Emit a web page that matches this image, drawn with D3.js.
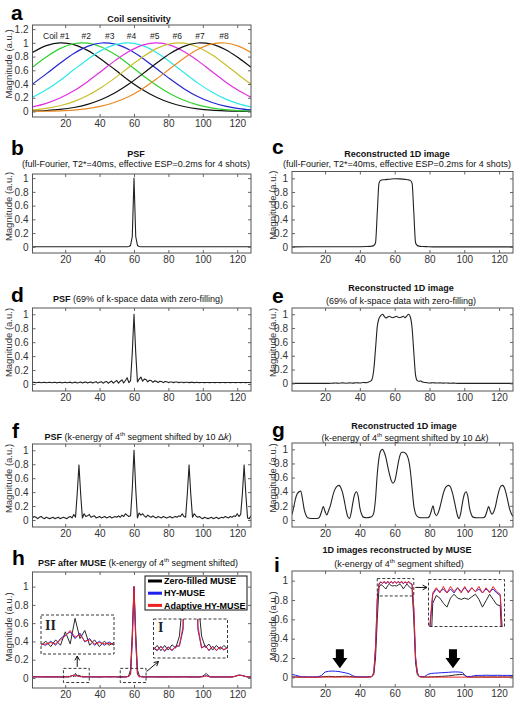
<!DOCTYPE html>
<html><head><meta charset="utf-8">
<script src="https://cdn.jsdelivr.net/npm/d3@7"></script>
<style>body{margin:0;background:#fff}svg{display:block}</style>
</head><body><svg id="fig" width="520" height="704"></svg>
<script>
// ---------------- DATA ----------------
const xTicks = [20, 40, 60, 80, 100, 120];
const yTicksA = [0, 0.2, 0.4, 0.6, 0.8, 1, 1.2];
const yTicks = [0, 0.2, 0.4, 0.6, 0.8, 1];

// (a) coil sensitivity profiles
const coilX = [1,9,17,25,33,41,49,57,65,73,81,89,97,105,113,121,128];
const coil1 = [0.860,0.959,1.000,0.975,0.890,0.759,0.607,0.453,0.317,0.207,0.127,0.073,0.039,0.019,0.009,0.004,0.002];
const coil2 = [0.646,0.795,0.916,0.987,0.995,0.939,0.829,0.684,0.529,0.382,0.258,0.163,0.097,0.054,0.028,0.013,0.007];
const coil3 = [0.399,0.548,0.703,0.845,0.949,0.998,0.981,0.903,0.777,0.626,0.472,0.333,0.219,0.135,0.078,0.042,0.023];
const coil4 = [0.207,0.317,0.453,0.607,0.759,0.890,0.975,1.000,0.959,0.860,0.722,0.567,0.417,0.287,0.184,0.111,0.067];
const coil5 = [0.067,0.119,0.196,0.302,0.435,0.587,0.741,0.875,0.967,1.000,0.967,0.875,0.741,0.587,0.435,0.302,0.207];
const coil6 = [0.023,0.046,0.084,0.144,0.232,0.349,0.490,0.646,0.795,0.916,0.987,0.995,0.939,0.829,0.684,0.529,0.399];
const coil7 = [0.007,0.015,0.030,0.058,0.104,0.174,0.272,0.399,0.548,0.703,0.845,0.949,0.998,0.981,0.903,0.777,0.646];
const coil8 = [0.002,0.004,0.010,0.021,0.042,0.078,0.135,0.219,0.333,0.472,0.626,0.777,0.903,0.981,0.998,0.949,0.860];
const coilNames = ["Coil #1","#2","#3","#4","#5","#6","#7","#8"];
const coilLabelX = [14.8, 32.3, 45.9, 58.5, 72.1, 85.1, 98.3, 112.3];
const coilColors = ["#111111","#2fd12f","#2424d0","#2ee8e8","#e02ee0","#c9be2a","#111111","#ea8a26"];

// (b) PSF, full Fourier  [x, magnitude]
const psfFull = [[1,0],[56,0],[57,0.004],[58,0.02],[59,0.15],[60,1],[61,0.15],[62,0.02],[63,0.004],[64,0],[128,0]];

// (c) reconstructed 1D image, full Fourier
const imgFull = [[1,0],[40,0.002],[44,0.004],[46,0.007],[47,0.01],[48,0.02],[49,0.06],[50,0.5],[51,0.93],[52,0.972],[54,0.98],[57,0.987],[60,0.995],[63,0.992],[66,0.985],[68,0.978],[69,0.97],[70,0.93],[71,0.5],[72,0.06],[73,0.02],[74,0.01],[76,0.005],[79,0.002],[82,0],[128,0]];

// (d) PSF, 69% k-space with zero filling (x = 1..128)
const psf69 = [
.020,.025,.018,.022,.025,.018,.022,.025,.018,.022,
.025,.018,.022,.026,.017,.022,.026,.017,.022,.026,
.017,.023,.027,.016,.023,.027,.016,.023,.028,.015,
.024,.029,.015,.024,.030,.014,.025,.032,.013,.026,
.034,.012,.028,.037,.012,.030,.042,.012,.034,.050,
.012,.040,.060,.015,.050,.090,.020,.050,.450,1.000,
.450,.030,.070,.100,.040,.070,.065,.030,.055,.050,
.025,.045,.040,.020,.040,.035,.020,.035,.032,.020,
.030,.030,.020,.028,.028,.020,.026,.026,.020,.025,
.025,.020,.024,.024,.020,.023,.023,.020,.022,.022,
.020,.022,.022,.020,.021,.021,.020,.021,.021,.020,
.021,.021,.020,.021,.021,.020,.021,.021,.020,.021,
.021,.020,.021,.021,.020,.021,.021,.020];

// (e) reconstructed 1D image, 69% k-space
const img69 = [[1,0],[20,0],[24,.003],[26,.006],[28,.003],[30,.007],[32,.003],[34,.008],[36,.004],[38,.01],[40,.005],[42,.012],[44,.01],
[45,.02],[46,.03],[47,.06],[48,.2],[49,.5],[50,.82],[51,.94],[52,.98],[53,1.0],[54,.97],[55,.945],[56,.96],[57,.97],[58,.955],[59,.95],[60,.96],
[61,.97],[62,.955],[63,.95],[64,.96],[65,.97],[66,.95],[67,.975],[68,1.0],[69,.96],[70,.8],[71,.45],[72,.12],[73,.04],[74,.03],[75,.035],[76,.02],
[78,.012],[80,.005],[82,.01],[84,.005],[86,.008],[88,.004],[90,.006],[92,.003],[94,.004],[96,0],[128,0]];

// (f) PSF, 4th segment k-energy shifted by 10 dk (x = 1..128)
const psfShift = [
.030,.050,.040,.020,.040,.050,.030,.020,.040,.030,
.020,.030,.040,.020,.030,.040,.020,.030,.040,.030,
.020,.040,.050,.030,.080,.040,.380,.790,.370,.030,
.090,.050,.060,.080,.040,.050,.060,.030,.040,.050,
.030,.040,.050,.030,.040,.050,.030,.040,.050,.040,
.060,.040,.070,.050,.090,.070,.050,.060,.450,1.000,
.450,.030,.100,.070,.090,.060,.040,.070,.050,.040,
.060,.040,.030,.050,.040,.030,.050,.040,.030,.040,
.050,.030,.040,.050,.040,.060,.050,.090,.050,.040,
.380,.790,.370,.040,.090,.060,.040,.050,.030,.020,
.040,.030,.020,.030,.040,.020,.030,.040,.020,.030,
.040,.030,.050,.040,.030,.050,.040,.060,.050,.090,
.050,.080,.380,.790,.370,.030,.020,.060];

// (g) reconstructed 1D image with shifted segment
const imgShift = [[1,.08],[2,.18],[3,.30],[4,.37],[5,.40],[6,.41],[7,.30],[8,.15],[9,.07],[10,.03],[12,.02],[14,.02],[16,.025],
[17,.05],[18,.12],[19,.19],[20,.12],[21,.07],[22,.13],[23,.20],[24,.30],[25,.39],[26,.45],[27,.48],[28,.49],[29,.46],[30,.39],
[31,.28],[32,.15],[33,.05],[34,.02],[35,.10],[36,.25],[37,.36],[38,.40],[39,.34],[40,.17],[41,.08],[42,.04],[44,.03],[46,.04],
[47,.05],[48,.10],[49,.30],[50,.65],[51,.88],[52,.98],[53,1.0],[54,.96],[55,.88],[56,.76],[57,.65],[58,.56],[59,.52],[60,.55],
[61,.66],[62,.80],[63,.91],[64,.96],[65,.96],[66,.95],[67,.92],[68,.85],[69,.70],[70,.45],[71,.20],[72,.09],[73,.05],[75,.03],
[77,.03],[79,.03],[80,.05],[81,.12],[82,.20],[83,.10],[84,.06],[85,.10],[86,.18],[87,.28],[88,.38],[89,.45],[90,.48],[91,.49],
[92,.47],[93,.40],[94,.30],[95,.18],[96,.07],[97,.02],[98,.10],[99,.25],[100,.36],[101,.40],[102,.34],[103,.17],[104,.08],[105,.04],
[107,.03],[109,.03],[111,.03],[112,.05],[113,.12],[114,.19],[115,.12],[116,.08],[117,.12],[118,.20],[119,.32],[120,.42],[121,.48],
[122,.49],[123,.46],[124,.38],[125,.27],[126,.16],[127,.09],[128,.05]];

// (h) PSF after MUSE
const museNames = ["Zero-filled MUSE","HY-MUSE","Adaptive HY-MUSE"];
const museColors = ["#2a2a2a","#2020ee","#ee2020"];
const psfMuseX = [1,4,7,10,13,16,19,20,21,22,23,24,25,26,27,28,29,30,31,32,33,34,37,40,43,46,49,
50,51,52,53,54,55,56,57,58,59,60,61,62,63,64,65,66,67,68,69,70,71,74,77,80,83,86,89,92,95,98,
100,101,102,103,104,105,108,111,114,117,119,120,121,122,123,124,125,126,128];
const psfZF = [.012,.015,.010,.014,.010,.012,
.010,.016,.008,.018,.010,.030,.012,.050,.020,.032,.010,.018,.008,.016,.010,.014,
.012,.010,.014,.012,.015,
.010,.016,.008,.016,.009,.017,.012,.030,.090,.500,1.000,.500,.090,.030,.013,.018,.009,.016,.010,.016,.011,.014,
.012,.010,.014,.012,.012,.015,.010,.012,.010,
.020,.035,.050,.030,.015,.012,
.012,.010,.012,.010,
.018,.025,.030,.028,.025,.020,.015,.012,
.010];
const psfHY = [.012,.010,.014,.010,.013,.010,
.012,.010,.016,.010,.020,.025,.030,.020,.028,.015,.020,.010,.016,.010,.015,.010,
.012,.010,.013,.011,.013,
.012,.008,.015,.007,.014,.008,.015,.015,.040,.400,1.000,.400,.040,.012,.016,.008,.015,.008,.014,.009,.013,.012,
.010,.012,.010,.012,.010,.012,.011,.010,.012,
.014,.020,.025,.018,.012,.010,
.010,.012,.010,.012,
.020,.028,.030,.030,.027,.022,.015,.012,
.010];
const psfAHY = [.011,.012,.012,.011,.012,.011,
.011,.012,.014,.012,.018,.024,.032,.022,.026,.016,.018,.012,.014,.012,.013,.011,
.011,.012,.012,.012,.012,
.013,.009,.014,.008,.013,.009,.014,.016,.045,.420,1.000,.420,.045,.013,.015,.009,.014,.009,.013,.010,.012,.011,
.011,.011,.011,.011,.011,.011,.011,.011,.011,
.013,.018,.022,.017,.012,.011,
.011,.011,.011,.011,
.019,.026,.029,.029,.026,.021,.015,.012,
.011];

// (i) 1D images reconstructed by MUSE
const imgMuseX = [1,3,5,7,10,13,16,18,20,22,24,26,28,30,32,34,36,38,41,44,46,
47,48,49,50,51,52,53,54,55,56,57,58,59,60,61,62,63,64,65,66,67,68,69,70,71,72,73,74,75,
77,79,81,83,85,87,89,91,93,95,97,99,100,101,102,104,106,108,110,113,116,119,122,125,128];
const imgZF = [.005,.004,.003,.004,.003,.002,.003,
.005,.008,.010,.008,.006,.008,.010,.012,.008,.005,.003,
.003,.004,.005,
.008,.030,.200,.600,.930,.960,.950,.930,.915,.950,.965,.950,.945,.950,.945,.955,.965,.945,.915,.940,.965,.945,.925,.920,.600,.150,.030,.008,.005,
.004,.003,.004,.006,.008,.010,.012,.015,.020,.025,.028,.030,
.025,.010,.004,
.003,.004,.003,.004,
.003,.004,.003,.004,.003,.004];
const imgHY = [.030,.022,.012,.005,.003,.003,.005,
.020,.055,.062,.065,.063,.060,.052,.045,.035,.015,.006,
.004,.004,.005,
.010,.050,.300,.800,.965,.985,.975,.985,.970,.985,.970,.990,.975,.990,.975,.990,.975,.985,.970,.985,.975,.985,.970,.960,.700,.200,.050,.010,.006,
.005,.030,.040,.043,.045,.048,.050,.052,.055,.056,.055,.050,
.030,.012,.008,
.010,.018,.020,.020,
.022,.020,.021,.020,.020,.019];
const imgAHY = [.004,.002,.001,.002,.001,.002,.001,
.002,.003,.002,.003,.002,.003,.002,.003,.002,.002,.001,
.002,.002,.004,
.010,.050,.320,.820,.970,.990,.970,.995,.970,.995,.975,.990,.970,.995,.970,.990,.975,.995,.970,.990,.970,.995,.975,.965,.720,.220,.050,.010,.004,
.002,.002,.002,.002,.002,.002,.002,.002,.002,.002,.002,.002,
.002,.002,.002,
.002,.002,.002,.002,
.002,.002,.002,.002,.002,.002];
const arrowXi = [28.5, 93.5];   // big black arrows in (i)

// ---------------- DRAWING ----------------
const FONT = '"Liberation Sans", Arial, Helvetica, sans-serif';
const svg = d3.select('#fig');
svg.append('rect').attr('width',520).attr('height',704).attr('fill','#fff');
let clipN = 0;

function makeAxes(o) {
  const x = d3.scaleLinear().domain(o.xd || [1,128]).range([o.x0, o.x1]);
  const y = d3.scaleLinear().domain(o.yd).range([o.y1, o.y0]);
  const g = svg.append('g');
  const id = 'clip' + (clipN++);
  svg.append('clipPath').attr('id', id).append('rect')
     .attr('x', o.x0).attr('y', o.y0).attr('width', o.x1 - o.x0).attr('height', o.y1 - o.y0);
  const plot = g.append('g').attr('clip-path', `url(#${id})`);
  const axes = g.append('g');
  const styl = sel => {
    sel.select('.domain').remove();
    sel.attr('font-family', FONT).attr('font-size', 10);
    sel.selectAll('line').attr('stroke', '#666');
    sel.selectAll('text').attr('fill', '#333');
  };
  const yt = o.yt || yTicks;
  axes.append('g').attr('transform', `translate(0,${o.y1})`)
      .call(d3.axisBottom(x).tickValues(xTicks).tickSizeInner(-3).tickSizeOuter(0).tickPadding(3)).call(styl);
  axes.append('g').attr('transform', `translate(0,${o.y0})`)
      .call(d3.axisTop(x).tickValues(xTicks).tickSizeInner(-3).tickSizeOuter(0).tickFormat('')).call(styl);
  axes.append('g').attr('transform', `translate(${o.x0},0)`)
      .call(d3.axisLeft(y).tickValues(yt).tickSizeInner(-3).tickSizeOuter(0).tickPadding(4).tickFormat(d3.format('~g'))).call(styl);
  axes.append('g').attr('transform', `translate(${o.x1},0)`)
      .call(d3.axisRight(y).tickValues(yt).tickSizeInner(-3).tickSizeOuter(0).tickFormat('')).call(styl);
  axes.append('rect').attr('x', o.x0).attr('y', o.y0).attr('width', o.x1 - o.x0).attr('height', o.y1 - o.y0)
      .attr('fill', 'none').attr('stroke', '#555').attr('stroke-width', 1);
  axes.append('text').attr('transform', `translate(${o.ylx},${(o.y0 + o.y1) / 2 + (o.yly || -7)}) rotate(-90)`)
      .attr('text-anchor', 'middle').attr('font-family', FONT).attr('font-size', 9.5).attr('fill', '#333')
      .text('Magnitude (a.u.)');
  return { x, y, g, plot, axes };
}

function line(ax, pts, color, w, curve) {
  const gen = d3.line().x(d => ax.x(d[0])).y(d => ax.y(d[1])).curve(curve || d3.curveLinear);
  ax.plot.append('path').datum(pts).attr('d', gen).attr('fill', 'none')
    .attr('stroke', color).attr('stroke-width', w || 1.1).attr('stroke-linejoin', 'round');
}
const idx = arr => arr.map((v, i) => [i + 1, v]);
const zip = (xs, ys) => xs.map((v, i) => [v, ys[i]]);

function letter(ch, x, y) {
  svg.append('text').attr('x', x).attr('y', y).attr('font-family', FONT).attr('font-weight', 'bold')
     .attr('font-size', 21).attr('fill', '#000').text(ch);
}
// parts: [text, bold, sup, italic]
function title(cx, y, parts, size) {
  const t = svg.append('text').attr('x', cx).attr('y', y).attr('text-anchor', 'middle')
     .attr('font-family', FONT).attr('font-size', size || 9).attr('fill', '#111');
  parts.forEach(p => {
    const s = t.append('tspan').text(p[0]);
    if (p[1]) s.attr('font-weight', 'bold');
    if (p[3]) s.attr('font-style', 'italic');
    if (p[2]) s.attr('font-size', 6).attr('dy', -3.5);
    if (p.prevSup) s.attr('dy', 3.5);
  });
  return t;
}
const after = s => Object.assign([s], { prevSup: true });

const L = { x0: 32.5, x1: 251, ylx: 11.5 };
const R = { x0: 292, x1: 513, ylx: 275.5 };

// ----- (a)
const A = makeAxes({ ...L, y0: 25, y1: 117, yd: [-0.08, 1.26], yt: yTicksA });
[coil1, coil2, coil3, coil4, coil5, coil6, coil7, coil8].forEach((c, i) =>
  line(A, zip(coilX, c), coilColors[i], 1.2, d3.curveCatmullRom.alpha(0.5)));
coilNames.forEach((n, i) => A.axes.append('text').attr('x', A.x(coilLabelX[i])).attr('y', A.y(1.1)).attr('dy', '0.35em')
  .attr('text-anchor', 'middle').attr('font-family', FONT).attr('font-size', 8.5).attr('fill', '#222').text(n));
letter('a', 11, 19.5);
title(139, 22, [['Coil sensitivity', true]]);

// ----- (b)
const B = makeAxes({ ...L, y0: 174, y1: 253, yd: [-0.09, 1.06] });
line(B, psfFull, '#222', 1.1);
letter('b', 11, 155);
title(136, 156.5, [['PSF', true]]);
title(136, 167, [['(full-Fourier, T2*=40ms, effective ESP=0.2ms for 4 shots)']]);

// ----- (c)
const C = makeAxes({ ...R, y0: 171.5, y1: 253, yd: [-0.09, 1.1] });
line(C, imgFull, '#222', 1.1, d3.curveMonotoneX);
letter('c', 272, 154);
title(397, 156.5, [['Reconstructed 1D image', true]]);
title(397, 167, [['(full-Fourier, T2*=40ms, effective ESP=0.2ms for 4 shots)']]);

// ----- (d)
const D = makeAxes({ ...L, y0: 308, y1: 391, yd: [-0.1, 1.09] });
line(D, idx(psf69), '#222', 1.1);
letter('d', 11, 302);
title(138, 301.5, [['PSF', true], [' (69% of k-space data with zero-filling)']]);

// ----- (e)
const E = makeAxes({ ...R, y0: 308, y1: 391, yd: [-0.11, 1.09] });
line(E, img69, '#222', 1.1, d3.curveMonotoneX);
letter('e', 272, 303);
title(401, 290.5, [['Reconstructed 1D image', true]]);
title(401, 303.5, [['(69% of k-space data with zero-filling)']]);

// ----- (f)
const F = makeAxes({ ...L, y0: 444, y1: 527, yd: [-0.1, 1.09] });
line(F, idx(psfShift), '#222', 1.1);
letter('f', 12, 438);
title(138, 439.5, [['PSF', true], [' (k-energy of 4'], ['th', false, true], after(' segment shifted by 10 \u0394'), ['k', false, false, true], [')']]);

// ----- (g)
const G = makeAxes({ ...R, y0: 443, y1: 527, yd: [-0.1, 1.09] });
line(G, imgShift, '#222', 1.1, d3.curveMonotoneX);
letter('g', 272, 437);
title(404, 428.5, [['Reconstructed 1D image', true]]);
title(405, 440.5, [['(k-energy of 4'], ['th', false, true], after(' segment shifted by 10 \u0394'), ['k', false, false, true], [')']]);

// ----- (h)
const H = makeAxes({ ...L, y0: 572, y1: 688, yd: [-0.11, 1.16], yly: -3 });
[psfZF, psfHY, psfAHY].forEach((s, i) => line(H, zip(psfMuseX, s), museColors[i], 1.0));
letter('h', 12, 565);
title(138, 565.5, [['PSF after MUSE', true], [' (k-energy of 4'], ['th', false, true], after(' segment shifted)')]);

// legend
const lg = H.axes.append('g');
lg.append('rect').attr('x', 145).attr('y', 576).attr('width', 102).attr('height', 34)
  .attr('fill', '#fff').attr('stroke', '#111').attr('stroke-width', 1);
museNames.forEach((n, i) => {
  const yy = 581 + i * 12.2;
  lg.append('line').attr('x1', 148).attr('x2', 162).attr('y1', yy).attr('y2', yy)
    .attr('stroke', i === 0 ? '#000' : museColors[i]).attr('stroke-width', 3);
  lg.append('text').attr('x', 164).attr('y', yy).attr('dy', '0.35em').attr('font-family', FONT)
    .attr('font-size', 9).attr('font-weight', 'bold').attr('fill', '#000').text(n);
});

function dashedRect(parent, x0, y0, x1, y1) {
  parent.append('rect').attr('x', x0).attr('y', y0).attr('width', x1 - x0).attr('height', y1 - y0)
    .attr('fill', 'none').attr('stroke', '#222').attr('stroke-width', 0.9).attr('stroke-dasharray', '3,2');
}
function inset(parent, box, xd, yd, series, xs, colors) {
  const x = d3.scaleLinear().domain(xd).range([box[0], box[2]]);
  const y = d3.scaleLinear().domain(yd).range([box[3], box[1]]);
  const id = 'clip' + (clipN++);
  svg.append('clipPath').attr('id', id).append('rect').attr('x', box[0]).attr('y', box[1])
    .attr('width', box[2] - box[0]).attr('height', box[3] - box[1]);
  const g = parent.append('g');
  g.append('rect').attr('x', box[0]).attr('y', box[1]).attr('width', box[2] - box[0]).attr('height', box[3] - box[1]).attr('fill', '#fff');
  const pg = g.append('g').attr('clip-path', `url(#${id})`);
  series.forEach((s, i) => pg.append('path').datum(zip(xs, s))
    .attr('d', d3.line().x(d => x(d[0])).y(d => y(d[1]))).attr('fill', 'none')
    .attr('stroke', colors[i]).attr('stroke-width', 1));
  dashedRect(g, box[0], box[1], box[2], box[3]);
  return g;
}
function arrowOpen(parent, x1, y1, x2, y2) {
  const a = Math.atan2(y2 - y1, x2 - x1), h = 5, s = 0.5;
  parent.append('line').attr('x1', x1).attr('y1', y1).attr('x2', x2).attr('y2', y2).attr('stroke', '#111').attr('stroke-width', 1);
  parent.append('path').attr('d', `M${x2 - h * Math.cos(a - s)},${y2 - h * Math.sin(a - s)}L${x2},${y2}L${x2 - h * Math.cos(a + s)},${y2 - h * Math.sin(a + s)}`)
    .attr('fill', 'none').attr('stroke', '#111').attr('stroke-width', 1);
}

// small dashed boxes in (h)
const hBoxII = [19, 34], hBoxI = [52, 67], hBoxY = [-0.05, 0.105];
dashedRect(H.axes, H.x(hBoxII[0]), H.y(hBoxY[1]), H.x(hBoxII[1]), H.y(hBoxY[0]));
dashedRect(H.axes, H.x(hBoxI[0]), H.y(hBoxY[1]), H.x(hBoxI[1]), H.y(hBoxY[0]));
inset(H.axes, [41, 615, 114, 654], [19, 34], [-0.003, 0.055], [psfZF, psfHY, psfAHY], psfMuseX, museColors);
inset(H.axes, [153.5, 619, 227.5, 658], [50, 70], [-0.003, 0.056], [psfZF, psfHY, psfAHY], psfMuseX, museColors);
H.axes.append('text').attr('x', 45).attr('y', 630).attr('font-family', '"Liberation Serif", "DejaVu Serif", serif')
  .attr('font-weight', 'bold').attr('font-size', 14).attr('fill', '#222').text('II');
H.axes.append('text').attr('x', 158).attr('y', 632).attr('font-family', '"Liberation Serif", "DejaVu Serif", serif')
  .attr('font-weight', 'bold').attr('font-size', 14).attr('fill', '#222').text('I');
arrowOpen(H.axes, H.x(27), H.y(hBoxY[1]) - 1.5, H.x(27), 656);
arrowOpen(H.axes, H.x(hBoxI[1]) + 0.5, H.y(0.07), 158.5, 661.5);

// ----- (i)
const I = makeAxes({ ...R, y0: 571, y1: 687, yd: [-0.1, 1.1], yly: -3 });
[imgZF, imgHY, imgAHY].forEach((s, i) => line(I, zip(imgMuseX, s), museColors[i], 1.0));
letter('i', 274, 571.5);
title(397, 552.5, [['1D images reconstructed by MUSE', true]]);
title(399, 566.5, [['(k-energy of 4'], ['th', false, true], after(' segment shifted)')]);

const iBoxX = [50, 71], iBoxY = [0.842, 1.022];
dashedRect(I.axes, I.x(iBoxX[0]), I.y(iBoxY[1]), I.x(iBoxX[1]), I.y(iBoxY[0]));
inset(I.axes, [428.5, 579.5, 504.5, 626.5], [49.8, 71.2], [0.84, 1.022], [imgZF, imgHY, imgAHY], imgMuseX, museColors);
arrowOpen(I.axes, I.x(iBoxX[1]) + 1.5, I.y(0.93), 427, I.y(0.93));

// big block arrows
arrowXi.forEach(ax => {
  const cx = I.x(ax), yt = I.y(0.29), ym = I.y(0.2), yb = I.y(0.095);
  I.axes.append('path').attr('d', `M${cx - 4},${yt}L${cx + 4},${yt}L${cx + 4},${ym}L${cx + 7.5},${ym}L${cx},${yb}L${cx - 7.5},${ym}L${cx - 4},${ym}Z`)
    .attr('fill', '#000');
});
</script></body></html>
